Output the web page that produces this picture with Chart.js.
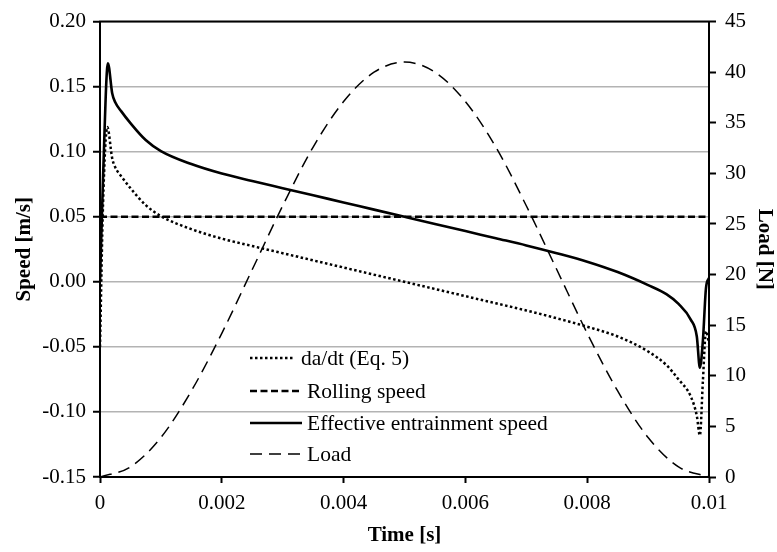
<!DOCTYPE html>
<html>
<head>
<meta charset="utf-8">
<script src="https://cdn.jsdelivr.net/npm/chart.js@4/dist/chart.umd.min.js"></script>
<style>
  html, body { margin: 0; padding: 0; background: #ffffff; }
  #wrap { width: 777px; height: 552px; position: relative; }
</style>
</head>
<body>
<div id="wrap"><canvas id="c" width="777" height="552"></canvas></div>
<script>
// ---- Data ----
const seriesNames = ['da/dt (Eq. 5)', 'Rolling speed', 'Effective entrainment speed', 'Load'];

const xTickLabels = ['0', '0.002', '0.004', '0.006', '0.008', '0.01'];
const speedTickLabels = ['-0.15', '-0.10', '-0.05', '0.00', '0.05', '0.10', '0.15', '0.20'];
const loadTickLabels = ['0', '5', '10', '15', '20', '25', '30', '35', '40', '45'];

// da/dt (Eq. 5) [m/s]
const dadtTime  = [0, 0.00005, 0.00012, 0.0002, 0.00025, 0.00035, 0.0005, 0.00075, 0.001, 0.0015, 0.002, 0.0025, 0.003, 0.0035, 0.004, 0.0045, 0.005, 0.0055, 0.006, 0.0065, 0.007, 0.0075, 0.008, 0.0085, 0.009, 0.0093, 0.0095, 0.0097, 0.0098, 0.00985, 0.0099, 0.00995, 0.01];
const dadtSpeed = [-0.05, 0.06, 0.119, 0.095, 0.088, 0.081, 0.072, 0.059, 0.0505, 0.0405, 0.0332, 0.0275, 0.022, 0.0165, 0.011, 0.0055, 0.0, -0.0055, -0.011, -0.0165, -0.022, -0.028, -0.0345, -0.042, -0.0535, -0.064, -0.075, -0.088, -0.103, -0.118, -0.076, -0.038, -0.047];

// Rolling speed [m/s]
const rollingTime  = [0, 0.01];
const rollingSpeed = [0.05, 0.05];

// Effective entrainment speed [m/s]
const effTime  = [0, 0.00005, 0.00013, 0.0002, 0.00025, 0.00035, 0.0005, 0.00075, 0.001, 0.0015, 0.002, 0.0025, 0.003, 0.0035, 0.004, 0.0045, 0.005, 0.0055, 0.006, 0.0065, 0.007, 0.0075, 0.008, 0.0085, 0.009, 0.0093, 0.0095, 0.0097, 0.0098, 0.00985, 0.0099, 0.00995, 0.01];
const effSpeed = [0.0, 0.08, 0.168, 0.145, 0.138, 0.131, 0.122, 0.109, 0.1005, 0.0905, 0.0832, 0.0775, 0.072, 0.0665, 0.061, 0.0555, 0.050, 0.0445, 0.039, 0.0335, 0.028, 0.022, 0.0155, 0.0075, -0.0025, -0.0095, -0.017, -0.029, -0.042, -0.066, -0.045, -0.005, 0.003];

// Load [N]
const loadTime   = [0, 0.0005, 0.001, 0.0015, 0.002, 0.0025, 0.003, 0.0035, 0.004, 0.0045, 0.005, 0.0055, 0.006, 0.0065, 0.007, 0.0075, 0.008, 0.0085, 0.009, 0.0095, 0.01];
const loadValues = [0, 1.0, 3.9, 8.5, 14.2, 20.5, 26.8, 32.6, 37.1, 40.0, 41.0, 40.0, 37.1, 32.6, 26.8, 20.5, 14.2, 8.5, 3.9, 1.0, 0];

// ---- Build ----
function pts(xs, ys) { return xs.map((x, i) => ({ x: x, y: ys[i] })); }

const FONT = "'Liberation Serif', 'Times New Roman', serif";

const styles = [
  { borderColor: '#000', borderWidth: 2.5, borderDash: [2.5, 2.5] },
  { borderColor: '#000', borderWidth: 2.5, borderDash: [7, 3.5] },
  { borderColor: '#000', borderWidth: 2.6, borderDash: [] },
  { borderColor: '#000', borderWidth: 1.5, borderDash: [12, 7] }
];

const datasets = [
  Object.assign({ label: seriesNames[0], data: pts(dadtTime, dadtSpeed), yAxisID: 'y', cubicInterpolationMode: 'monotone' }, styles[0]),
  Object.assign({ label: seriesNames[1], data: pts(rollingTime, rollingSpeed), yAxisID: 'y' }, styles[1]),
  Object.assign({ label: seriesNames[2], data: pts(effTime, effSpeed), yAxisID: 'y', cubicInterpolationMode: 'monotone' }, styles[2]),
  Object.assign({ label: seriesNames[3], data: pts(loadTime, loadValues), yAxisID: 'y1', cubicInterpolationMode: 'monotone' }, styles[3])
];

const frameAndLegend = {
  id: 'frameAndLegend',
  afterDatasetsDraw(chart) {
    const ctx = chart.ctx, a = chart.chartArea;
    ctx.save();
    ctx.strokeStyle = '#000';
    ctx.lineWidth = 2;
    ctx.beginPath();
    ctx.moveTo(a.left - 1, a.top);
    ctx.lineTo(a.right + 1, a.top);
    ctx.stroke();
    // legend inside the plot area
    const rowsY = [358, 391, 423, 454];
    const x0 = 250, x1 = 302, tx = 307;
    ctx.font = "21.5px " + FONT;
    ctx.fillStyle = '#000';
    ctx.textBaseline = 'middle';
    ctx.textAlign = 'left';
    seriesNames.forEach((name, i) => {
      const s = styles[i];
      ctx.beginPath();
      ctx.lineWidth = s.borderWidth;
      ctx.setLineDash(s.borderDash);
      ctx.strokeStyle = s.borderColor;
      ctx.moveTo(x0, rowsY[i]);
      ctx.lineTo(i === 0 ? x1 - 8 : x1, rowsY[i]);
      ctx.stroke();
      ctx.setLineDash([]);
      ctx.fillText(name, i === 0 ? tx - 6 : tx, rowsY[i] + 1);
    });
    ctx.restore();
  }
};

new Chart(document.getElementById('c'), {
  type: 'line',
  data: { datasets: datasets },
  plugins: [frameAndLegend],
  options: {
    responsive: false,
    animation: false,
    events: [],
    layout: { padding: { top: 16, left: 0, right: 0, bottom: 0 } },
    elements: { point: { radius: 0 }, line: { tension: 0 } },
    plugins: { legend: { display: false }, tooltip: { enabled: false } },
    scales: {
      x: {
        type: 'linear', min: 0, max: 0.01,
        afterBuildTicks: (s) => { s.ticks = xTickLabels.map(v => ({ value: parseFloat(v) })); },
        afterFit: (s) => { s.height = 75; },
        ticks: {
          autoSkip: false, maxRotation: 0, padding: 8, color: '#000',
          font: { family: FONT, size: 21 },
          callback: (v, i) => xTickLabels[i]
        },
        grid: { drawOnChartArea: false, drawTicks: true, tickLength: 6, tickColor: '#000', tickWidth: 2 },
        border: { display: true, color: '#000', width: 2 },
        title: { display: true, text: 'Time [s]', color: '#000', font: { family: FONT, size: 21, weight: 'bold' }, padding: { top: 4, bottom: 4 } }
      },
      y: {
        type: 'linear', position: 'left', min: -0.15, max: 0.2,
        afterBuildTicks: (s) => { s.ticks = speedTickLabels.map(v => ({ value: parseFloat(v) })); },
        afterFit: (s) => { s.width = 100; },
        ticks: {
          autoSkip: false, padding: 7, color: '#000',
          font: { family: FONT, size: 21 },
          callback: (v, i) => speedTickLabels[i]
        },
        grid: { color: '#b3b3b3', lineWidth: 1.5, drawTicks: true, tickLength: 7, tickColor: '#000', tickWidth: 2 },
        border: { display: true, color: '#000', width: 2 },
        title: { display: true, text: 'Speed [m/s]', color: '#000', font: { family: FONT, size: 21, weight: 'bold' }, padding: { top: 12, bottom: 0 } }
      },
      y1: {
        type: 'linear', position: 'right', min: 0, max: 45,
        afterBuildTicks: (s) => { s.ticks = loadTickLabels.map(v => ({ value: parseFloat(v) })); },
        afterFit: (s) => { s.width = 68; },
        ticks: {
          autoSkip: false, padding: 9, color: '#000',
          font: { family: FONT, size: 21 },
          callback: (v, i) => loadTickLabels[i]
        },
        grid: { drawOnChartArea: false, drawTicks: true, tickLength: 7, tickColor: '#000', tickWidth: 2 },
        border: { display: true, color: '#000', width: 2 },
        title: { display: true, text: 'Load [N]', color: '#000', font: { family: FONT, size: 21, weight: 'bold' }, padding: { top: 0, bottom: 0 } }
      }
    }
  }
});
</script>
</body>
</html>
